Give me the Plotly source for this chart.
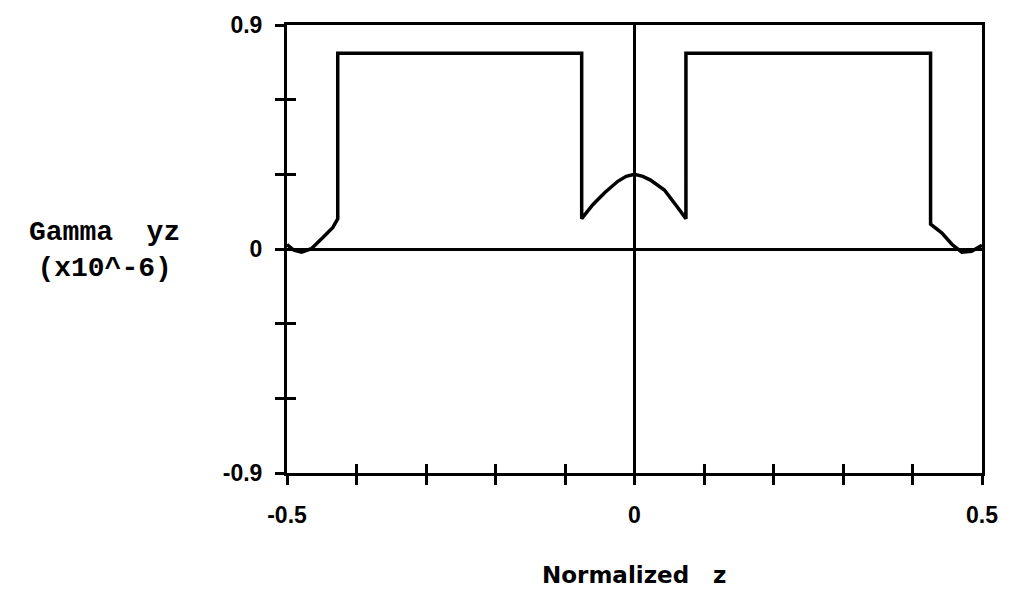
import plotly.graph_objects as go

# Data
z = [-0.500, -0.490, -0.479, -0.465, -0.448, -0.434, -0.427, -0.427,
     -0.076, -0.076, -0.060, -0.043, -0.024, -0.012, 0.000, 0.012, 0.023,
     0.043, 0.060, 0.074, 0.074,
     0.426, 0.426, 0.442, 0.457, 0.471, 0.485, 0.497, 0.500]
gamma = [0.018, -0.005, -0.013, 0.001, 0.047, 0.087, 0.121, 0.786,
         0.786, 0.122, 0.178, 0.226, 0.272, 0.292, 0.300, 0.292, 0.277,
         0.237, 0.175, 0.122, 0.786,
         0.786, 0.100, 0.065, 0.018, -0.013, -0.009, 0.011, 0.015]

x_ticks = [-0.5, -0.4, -0.3, -0.2, -0.1, 0.0, 0.1, 0.2, 0.3, 0.4, 0.5]
x_labels = ["-0.5", "", "", "", "", "0", "", "", "", "", "0.5"]
y_ticks = [-0.9, -0.6, -0.3, 0.0, 0.3, 0.6, 0.9]
y_labels = ["-0.9", "", "", "0", "", "", "0.9"]

fig = go.Figure()
fig.add_trace(go.Scatter(x=z, y=gamma, mode="lines",
                         line=dict(color="black", width=3.5),
                         showlegend=False, hoverinfo="skip"))
# duplicate (invisible) on overlay axes to carry the inner tick halves
fig.add_trace(go.Scatter(x=z, y=gamma, mode="lines", xaxis="x2", yaxis="y2",
                         line=dict(color="rgba(0,0,0,0)", width=0),
                         showlegend=False, hoverinfo="skip"))

tickfont = dict(family="Liberation Sans", size=23, color="black", weight="bold")
common = dict(showgrid=False, linecolor="black", linewidth=3,
              tickcolor="black", tickwidth=3, ticklen=9)

fig.update_layout(
    width=1010, height=591,
    margin=dict(l=287, r=23, t=24, b=118),
    paper_bgcolor="white", plot_bgcolor="white",
    xaxis=dict(range=[-0.5, 0.5], tickvals=x_ticks, ticktext=x_labels,
               ticks="outside", showline=True, mirror=True,
               zeroline=True, zerolinecolor="black", zerolinewidth=3,
               tickfont=tickfont, ticklabelstandoff=10, **common),
    yaxis=dict(range=[-0.9, 0.9], tickvals=y_ticks, ticktext=y_labels,
               ticks="outside", showline=True, mirror=True,
               zeroline=True, zerolinecolor="black", zerolinewidth=3,
               tickfont=tickfont, ticklabelstandoff=8, **common),
    xaxis2=dict(overlaying="x", matches="x", anchor="y", side="bottom",
                tickvals=x_ticks, ticks="inside", showticklabels=False,
                showline=False, zeroline=False, showgrid=False,
                tickcolor="black", tickwidth=3, ticklen=9),
    yaxis2=dict(overlaying="y", matches="y", anchor="x", side="left",
                tickvals=y_ticks, ticks="inside", showticklabels=False,
                showline=False, zeroline=False, showgrid=False,
                tickcolor="black", tickwidth=3, ticklen=9),
    annotations=[
        dict(text="<b>Gamma\u00a0\u00a0yz</b><br><b>(x10^-6)</b>",
             xref="paper", yref="paper", x=-0.262, y=0.497,
             xanchor="center", yanchor="middle", showarrow=False,
             font=dict(family="Liberation Mono", size=28, color="black")),
        dict(text="<b>Normalized\u00a0\u00a0\u00a0z</b>",
             xref="paper", yref="paper", x=0.5, y=-0.228,
             xanchor="center", yanchor="middle", showarrow=False,
             font=dict(family="DejaVu Sans", size=23, color="black")),
    ],
)

fig.write_html("out.html")
